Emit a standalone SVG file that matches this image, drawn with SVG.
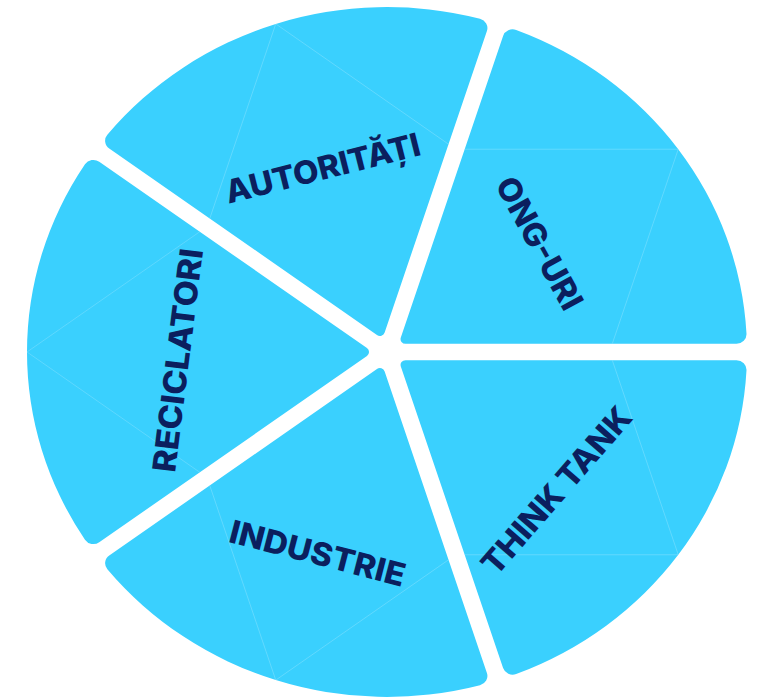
<svg xmlns="http://www.w3.org/2000/svg" xmlns:xlink="http://www.w3.org/1999/xlink" width="757" height="697" viewBox="0 0 757 697">
<style>
.slice{fill:#3AD0FE}
.seam{fill:none;stroke:#8FE4FF;stroke-width:0.8;stroke-opacity:0.55}
.lbl{font-family:"Inter","DejaVu Sans",sans-serif;font-weight:800;font-size:32px;fill:#0B1F5E;text-anchor:middle}
</style>
<defs>
<path id="slice" d="M20.03,-4.05 L287.76,-198.56 A10 10 0 0 1 302.02,-195.91 A360 360 0 0 1 302.02,195.91 A10 10 0 0 1 287.76,198.56 L20.03,4.05 A5 5 0 0 1 20.03,-4.05 Z"/>
<path id="seamp" d="M180,-130.78 L360,0 L180,130.78"/>
<clipPath id="clip">
<use xlink:href="#slice" transform="rotate(180)"/>
<use xlink:href="#slice" transform="rotate(-108)"/>
<use xlink:href="#slice" transform="rotate(-36)"/>
<use xlink:href="#slice" transform="rotate(36)"/>
<use xlink:href="#slice" transform="rotate(108)"/>
</clipPath>
</defs>
<rect width="757" height="697" fill="#FFFFFF"/>
<g id="autoritati">
<use xlink:href="#slice" class="slice" transform="translate(387,352) scale(1,0.9583) rotate(-108)"/>
</g>
<g id="ong-uri">
<use xlink:href="#slice" class="slice" transform="translate(387,352) scale(1,0.9583) rotate(-36)"/>
</g>
<g id="think-tank">
<use xlink:href="#slice" class="slice" transform="translate(387,352) scale(1,0.9583) rotate(36)"/>
</g>
<g id="industrie">
<use xlink:href="#slice" class="slice" transform="translate(387,352) scale(1,0.9583) rotate(108)"/>
</g>
<g id="reciclatori">
<use xlink:href="#slice" class="slice" transform="translate(387,352) scale(1,0.9583) rotate(180)"/>
</g>
<g id="seams" transform="translate(387,352) scale(1,0.9583)">
<g clip-path="url(#clip)">
<use xlink:href="#seamp" class="seam" transform="rotate(180)"/>
<use xlink:href="#seamp" class="seam" transform="rotate(-108)"/>
<use xlink:href="#seamp" class="seam" transform="rotate(-36)"/>
<use xlink:href="#seamp" class="seam" transform="rotate(36)"/>
<use xlink:href="#seamp" class="seam" transform="rotate(108)"/>
</g>
</g>
<g id="labels">
<text class="lbl" transform="translate(325.5,179.2) rotate(-14.2)" textLength="200" lengthAdjust="spacingAndGlyphs">AUTORITĂȚI</text>
<text class="lbl" transform="translate(529.5,248.7) rotate(61.4)" textLength="146" lengthAdjust="spacingAndGlyphs">ONG-URI</text>
<text class="lbl" transform="translate(565,498) rotate(-49)" textLength="210" lengthAdjust="spacingAndGlyphs">THINK TANK</text>
<text class="lbl" transform="translate(314.7,564.2) rotate(14.5)" textLength="180" lengthAdjust="spacingAndGlyphs">INDUSTRIE</text>
<text class="lbl" transform="translate(189,361.7) rotate(-82.8)" textLength="225" lengthAdjust="spacingAndGlyphs">RECICLATORI</text>
</g>
</svg>
